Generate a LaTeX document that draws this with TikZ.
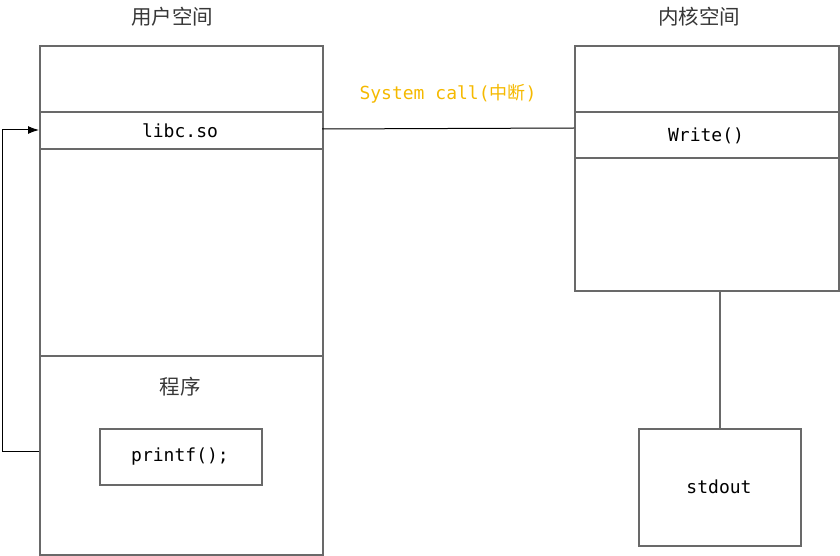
\documentclass[tikz,border=0pt]{standalone}
\usepackage{fontspec}
\setmonofont{DejaVu Sans Mono}
\newfontfamily\cjk{Noto Sans CJK SC}
\usetikzlibrary{arrows.meta}
\definecolor{boxgray}{RGB}{105,105,105}
\definecolor{txtgray}{RGB}{55,55,55}
\definecolor{callorange}{RGB}{245,185,0}
\tikzset{
  box/.style={draw=boxgray,line width=1.6pt},
  sep/.style={draw=boxgray,line width=1.6pt},
  mono/.style={font=\fontsize{18}{20}\selectfont\ttfamily,text=black},
  title/.style={font=\fontsize{20.5}{23}\selectfont\cjk,text=txtgray},
  conn/.style={draw=black,line width=1pt},
}
\begin{document}
\begin{tikzpicture}[x=1pt,y=-1pt]
\useasboundingbox (0,0) rectangle (840,556);
% left box
\node[box,minimum width=283pt,minimum height=509pt,anchor=north west,inner sep=0pt] (user) at (39,45) {};
\draw[sep] (39,112) -- (322,112);
\draw[sep] (39,149) -- (322,149);
\draw[sep] (39,356) -- (322,356);
\node[title] (usert) at (172,17) {用户空间};
\node[mono] (libc) at (180,131) {libc.so};
\coordinate (libcL) at (39,130);
\coordinate (libcR) at (322,129);
\node[title] (prog) at (180,387) {程序};
\node[box,minimum width=162pt,minimum height=56pt,anchor=north west,inner sep=0pt] (printf) at (99,428) {};
\node[mono] (printft) at (180,457) {printf();};
\coordinate (progL) at (39,451);
% right box
\node[box,minimum width=264pt,minimum height=245pt,anchor=north west,inner sep=0pt] (kern) at (574,45) {};
\draw[sep] (574,112) -- (838,112);
\draw[sep] (574,158) -- (838,158);
\node[title] (kernt) at (699,17) {内核空间};
\node[mono] (write) at (706,136) {Write()};
\coordinate (writeL) at (574,128);
% stdout
\node[box,minimum width=162pt,minimum height=117pt,anchor=north west,inner sep=0pt] (stdout) at (638,428) {};
\node[mono] (stdoutt) at (719,487) {stdout};
% connectors
\draw[conn] (libcR) -- (writeL);
\node[font=\fontsize{18}{20}\selectfont\ttfamily,text=callorange] (call) at (448,94) {System call({\cjk 中断})};
\draw[sep] (720,290) -- (stdout.north -| 720,0);
\draw[conn,-{Latex[length=11pt,width=8pt]}] (progL) -- (2,451) -- (2,130) -- (libcL);
\end{tikzpicture}
\end{document}
